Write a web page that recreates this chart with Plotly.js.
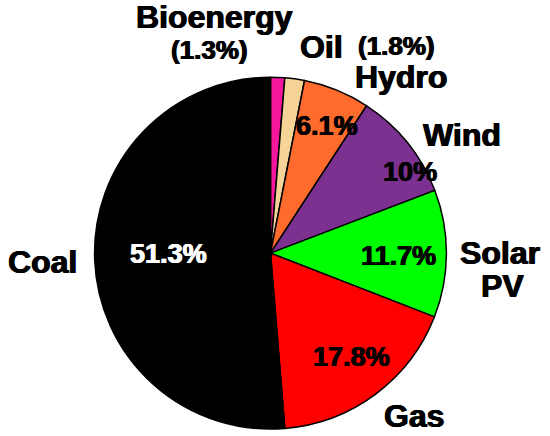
<!DOCTYPE html>
<html>
<head>
<meta charset="utf-8">
<script src="https://cdn.plot.ly/plotly-3.0.1.min.js"></script>
<style>
  html, body { margin: 0; padding: 0; background: #fff; }
  #chart { width: 550px; height: 436px; }
</style>
</head>
<body>
<div id="chart"></div>
<script>
// electricity mix, clockwise from 12 o'clock
var sources = ["Bioenergy", "Oil", "Hydro", "Wind", "Solar PV", "Gas", "Coal"];
var shares = [1.3, 1.8, 6.1, 10, 11.7, 17.8, 51.3];
var colors = ["#F5169E", "#F6D497", "#FF6B2C", "#7C3190", "#00FF00", "#FF0000", "#000000"];
var textColors = ["#000", "#000", "#000", "#000", "#000", "#000", "#fff"];

var trace = {
  type: "pie",
  labels: sources,
  values: shares,
  sort: false,
  direction: "clockwise",
  rotation: 0,
  marker: { colors: colors, line: { color: "#000", width: 1.5 } },
  textinfo: "none",
  hoverinfo: "label+percent",
  domain: { x: [0.1718, 0.8118], y: [0.016, 0.823] }
};

var fam = "Liberation Sans, Arial, sans-serif";
// a hairline shadow makes the bold face a bit heavier, like the original
function heavy(c) { return "0.6px 0 0 " + c + ", -0.6px 0 0 " + c; }
var nameFont = { family: fam, size: 32, color: "#000", weight: "bold", shadow: heavy("#000") };
var shareFont = { family: fam, size: 26, color: "#000", weight: "bold", shadow: heavy("#000") };

function lbl(text, x, y, font) {
  return { text: text, x: x / 550, y: 1 - y / 436, xref: "paper", yref: "paper",
           showarrow: false, xanchor: "center", yanchor: "middle", font: font };
}

// share labels inside the bigger slices
var pctPos = [null, null, [327, 126], [410, 172], [398, 256], [351, 357], [168, 254]];
var annotations = [];
shares.forEach(function (v, i) {
  if (!pctPos[i]) return;
  annotations.push(lbl(v + "%", pctPos[i][0], pctPos[i][1],
    { family: fam, size: 27, color: textColors[i], weight: "bold", shadow: heavy(textColors[i]) }));
});

// names round the pie
annotations.push(
  lbl(sources[0], 214, 17, nameFont),
  lbl("(" + shares[0] + "%)", 209, 50, shareFont),
  lbl(sources[1], 321, 47, nameFont),
  lbl("(" + shares[1] + "%)", 396, 46, shareFont),
  lbl(sources[2], 401, 77, nameFont),
  lbl(sources[3], 462, 135, nameFont),
  lbl("Solar", 500, 253, nameFont),
  lbl("PV", 502, 286, nameFont),
  lbl(sources[6], 42, 262, nameFont),
  lbl(sources[5], 414, 416, nameFont)
);

var layout = {
  width: 550,
  height: 436,
  margin: { l: 0, r: 0, t: 0, b: 0 },
  paper_bgcolor: "#fff",
  showlegend: false,
  annotations: annotations
};

Plotly.newPlot("chart", [trace], layout, { displayModeBar: false, staticPlot: true });
</script>
</body>
</html>
